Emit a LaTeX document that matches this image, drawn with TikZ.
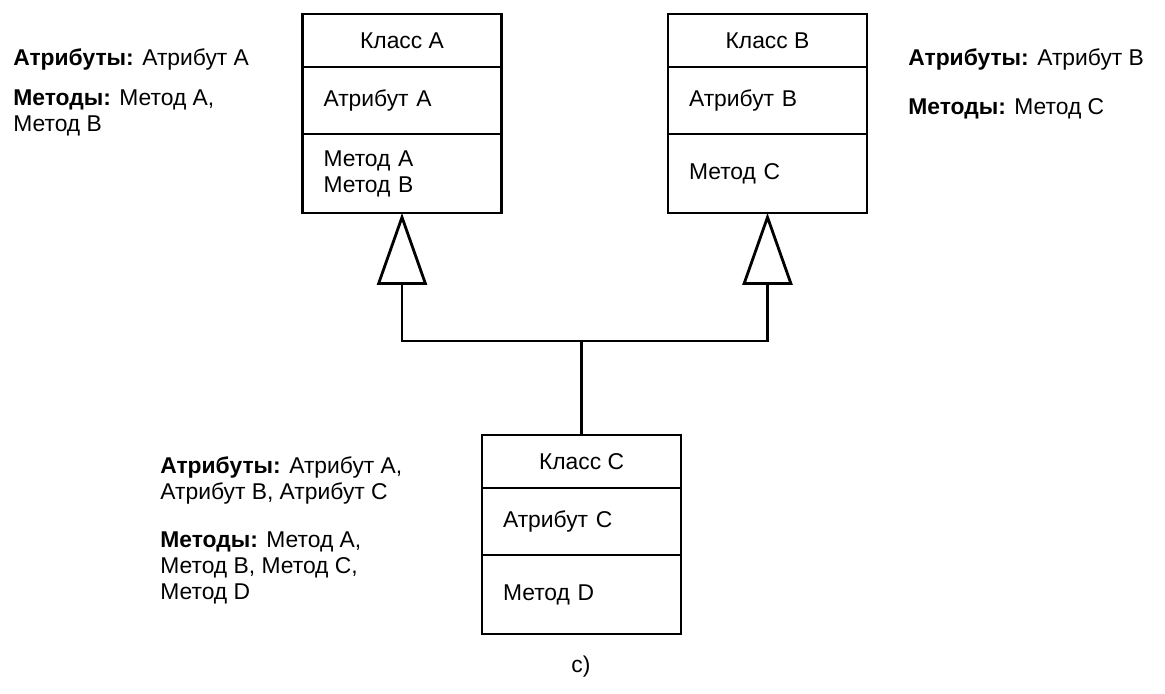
\documentclass[tikz,border=0pt]{standalone}
\usepackage{fontspec}
\setmainfont{Liberation Sans}
\usetikzlibrary{positioning,arrows.meta}

\begin{document}
\begin{tikzpicture}[x=0.02cm, y=-0.02cm,
    txt/.style={font=\fontsize{13}{14.8}\selectfont},
    clsname/.style={rectangle, draw, line width=1.6pt, outer sep=0pt, minimum width=3.98cm, minimum height=1.06cm, align=center, txt},
    clsattr/.style={rectangle, draw, line width=1.6pt, outer sep=0pt, text width=3.14cm, inner xsep=0.42cm, minimum height=1.34cm, align=left, txt},
    clsmeth/.style={clsattr, minimum height=1.58cm},
    note/.style={anchor=north west, inner sep=0pt, align=left, txt},
    inherit/.style={line width=1.6pt, -{Triangle[open, length=1.44cm, width=1cm]}}]

    \useasboundingbox (0,0) rectangle (1165,693);

    % classes
    \node[clsname] (clsAname) at (402,40.5) {Класс A};
    \node[clsattr, below=0pt of clsAname] (clsAattr) {Атрибут A};
    \node[clsmeth, below=0pt of clsAattr] (clsAmeth) {Метод A\\Метод B};

    \node[clsname] (clsBname) at (767.5,40.5) {Класс B};
    \node[clsattr, below=0pt of clsBname] (clsBattr) {Атрибут B};
    \node[clsmeth, below=0pt of clsBattr] (clsBmeth) {Метод C};

    \node[clsname] (clsCname) at (581.5,461.5) {Класс C};
    \node[clsattr, below=0pt of clsCname] (clsCattr) {Атрибут C};
    \node[clsmeth, below=0pt of clsCattr] (clsCmeth) {Метод D};

    % notes
    \node[note] (noteAattr) at (13,48.5) {\textbf{Атрибуты:} Атрибут A};
    \node[note] (noteAmeth) at (13,89.5) {\textbf{Методы:} Метод A,\\Метод B};
    \node[note] (noteBattr) at (908,48.5) {\textbf{Атрибуты:} Атрибут B};
    \node[note] (noteBmeth) at (908,98.5) {\textbf{Методы:} Метод C};
    \node[note] (noteCattr) at (160,456.5) {\textbf{Атрибуты:} Атрибут A,\\Атрибут B, Атрибут C};
    \node[note] (noteCmeth) at (160,531.5) {\textbf{Методы:} Метод A,\\Метод B, Метод C,\\Метод D};

    \node[txt] (caption) at (581,667) {c)};

    % inheritance
    \coordinate (join) at (581.5,341);
    \draw[line width=1.6pt] (clsCname.north) -- (join);
    \draw[inherit] (join) -| (clsAmeth.south);
    \draw[inherit] (join) -| (clsBmeth.south);
\end{tikzpicture}
\end{document}
